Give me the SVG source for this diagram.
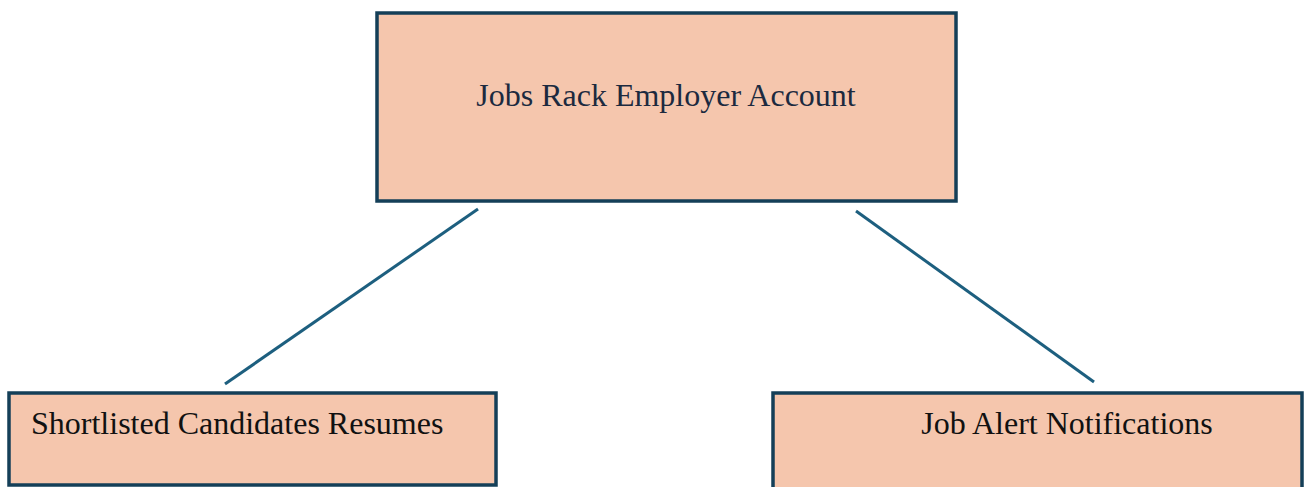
<svg xmlns="http://www.w3.org/2000/svg" width="1304" height="487" viewBox="0 0 1304 487">
<style>
.box{fill:#f5c6ad;stroke:#143f58;stroke-width:3.5}
.lbl{font-family:"Liberation Serif","Times New Roman",serif;font-size:32px;fill:#111}
.conn{stroke:#1d5f7f;stroke-width:3;fill:none}
</style>
<rect width="1304" height="487" fill="#fff"/>
<g id="connectors">
<line class="conn" x1="478" y1="209" x2="225" y2="384"/>
<line class="conn" x1="856" y1="211" x2="1094" y2="382"/>
</g>
<g id="node-top">
<rect class="box" x="377" y="13" width="579" height="188"/>
<text class="lbl" x="666" y="106" text-anchor="middle" style="fill:#1c2a3f">Jobs Rack Employer Account</text>
</g>
<g id="node-left">
<rect class="box" x="9" y="393" width="487" height="92"/>
<text class="lbl" x="31" y="434">Shortlisted Candidates Resumes</text>
</g>
<g id="node-right">
<rect class="box" x="773" y="393" width="529" height="100"/>
<text class="lbl" x="1067" y="434" text-anchor="middle">Job Alert Notifications</text>
</g>
</svg>
